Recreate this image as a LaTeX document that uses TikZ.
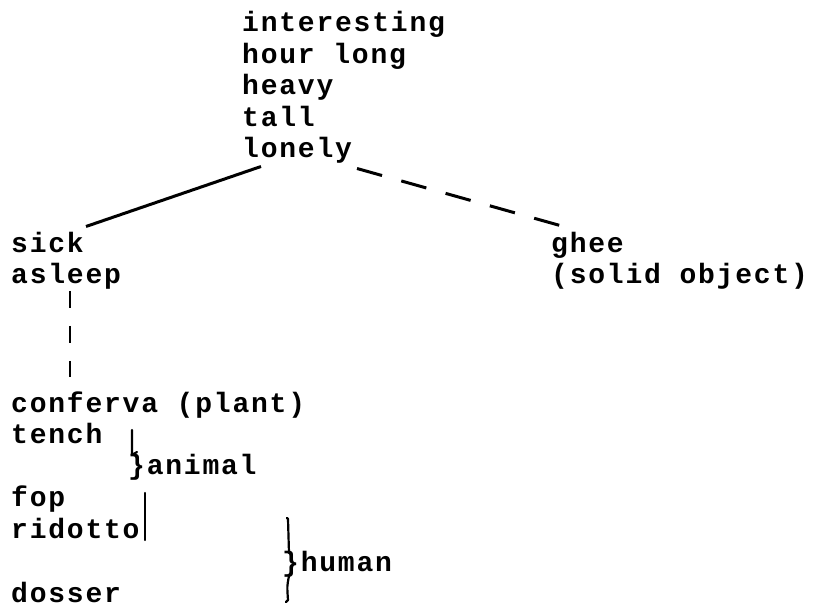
\documentclass[tikz,border=0pt]{standalone}
\usepackage{fontspec}
\newfontfamily\tw{Liberation Mono}[UprightFont={* Bold}, LetterSpace=6.4]
\usetikzlibrary{calc}
\tikzset{
  lbl/.style={anchor=base west, inner sep=0pt, font=\tw\fontsize{28}{32}\selectfont},
  link/.style={line width=3pt},
  dlink/.style={line width=3pt, dash pattern=on 26pt off 20pt},
  vdlink/.style={line width=2.6pt, dash pattern=on 17pt off 18pt},
  brc/.style={line width=2.2pt, line cap=round, line join=round}
}
\begin{document}
\begin{tikzpicture}[x=1pt,y=-1pt]
\useasboundingbox[fill=white] (0,0) rectangle (820,612);
% top block
\node[lbl] (interesting) at (242,32) {interesting};
\node[lbl] (hourlong) at (242,63.5) {hour long};
\node[lbl] (heavy) at (242,95) {heavy};
\node[lbl] (tall) at (242,126.5) {tall};
\node[lbl] (lonely) at (242,157.5) {lonely};
% second level
\node[lbl] (sick) at (11,252.5) {sick};
\node[lbl] (asleep) at (11,284) {asleep};
\node[lbl] (ghee) at (551,252.5) {ghee};
\node[lbl] (solid) at (551,284) {(solid object)};
% lower list
\node[lbl] (conferva) at (11,413) {conferva (plant)};
\node[lbl] (tench) at (11,443.5) {tench};
\node[lbl] (animal) at (128,475) {\}animal};
\node[lbl] (fop) at (11,507) {fop};
\node[lbl] (ridotto) at (11,538) {ridotto};
\node[lbl] (human) at (282,571) {\}human};
\node[lbl] (dosser) at (11,602) {dosser};
% connectors
\draw[link] ($(lonely.base west)+(19,9)$) -- ($(sick.base west)+(75,-26)$);
\draw[dlink] ($(lonely.base west)+(115,11)$) -- ($(ghee.base west)+(9,-27)$);
\draw[vdlink] ($(asleep.base west)+(59,7)$) -- ($(conferva.base west)+(59,-36)$);
% animal brace
\draw[brc] ($(animal.base west)+(4,-45)$) -- ($(animal.base west)+(4,-20)$) -- ($(animal.base west)+(9,-23)$);
\draw[brc] ($(animal.base west)+(17,18)$) -- ($(animal.base west)+(17,65)$);
% human brace
\draw[brc] ($(human.base west)+(5,-53)$) -- ($(human.base west)+(6,-52)$) -- ($(human.base west)+(7,-18)$);
\draw[brc] ($(human.base west)+(7,5)$) .. controls ($(human.base west)+(5,15)$) .. ($(human.base west)+(6,29)$) -- ($(human.base west)+(4,31)$);
\end{tikzpicture}
\end{document}
